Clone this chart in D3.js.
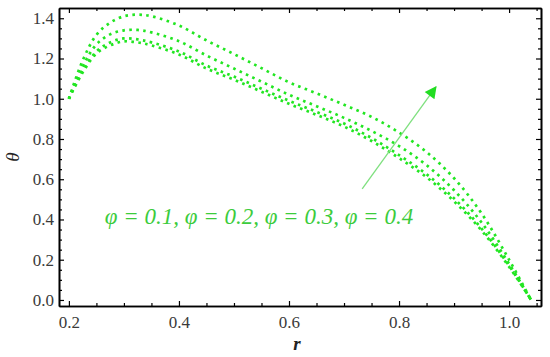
<!DOCTYPE html>
<html><head>
<meta charset="utf-8">
<script src="https://d3js.org/d3.v7.min.js"></script>
<style>
	body { margin: 0; background: #fff; }
	.chart text { font-family: "Liberation Serif", "Times New Roman", serif; }
	.axis path, .axis line { stroke: #000; }
	.curve { fill: none; stroke: #22e622; stroke-width: 2.7; stroke-dasharray: 2.6,4.4; }
</style>
</head><body>
<svg class="chart"></svg>

<script>
var width = 550;
var height = 357;

// r grid and theta values
var r = [0.2, 0.225, 0.25, 0.275, 0.3, 0.325, 0.35, 0.4, 0.45, 0.5, 0.55, 0.6, 0.65, 0.7, 0.75, 0.8, 0.85, 0.9, 0.95, 1.0, 1.04];
var phi01 = [1.0, 1.13, 1.225, 1.265, 1.285, 1.28, 1.265, 1.22, 1.15, 1.095, 1.035, 0.975, 0.92, 0.862, 0.79, 0.705, 0.61, 0.49, 0.345, 0.165, 0.0];
var phi02 = [1.0, 1.14, 1.235, 1.28, 1.30, 1.295, 1.28, 1.235, 1.165, 1.11, 1.05, 0.99, 0.935, 0.877, 0.805, 0.72, 0.625, 0.505, 0.355, 0.17, 0.0];
var phi03 = [1.0, 1.16, 1.27, 1.32, 1.34, 1.342, 1.33, 1.286, 1.215, 1.15, 1.085, 1.02, 0.963, 0.905, 0.84, 0.765, 0.67, 0.545, 0.385, 0.18, 0.0];
var phi04 = [1.0, 1.19, 1.317, 1.378, 1.41, 1.418, 1.41, 1.364, 1.29, 1.222, 1.152, 1.082, 1.027, 0.97, 0.91, 0.832, 0.735, 0.605, 0.43, 0.2, 0.0];
var series = [phi01, phi02, phi03, phi04];

var xMajor = [0.2, 0.4, 0.6, 0.8, 1.0];
var yMajor = [0.0, 0.2, 0.4, 0.6, 0.8, 1.0, 1.2, 1.4];
var legendText = "\u03c6 = 0.1, \u03c6 = 0.2, \u03c6 = 0.3, \u03c6 = 0.4";

var x = d3.scaleLinear()
	.domain([0.182, 1.058])
	.range([59, 541]);

var y = d3.scaleLinear()
	.domain([-0.03, 1.451])
	.range([306, 8]);

var xMinor = d3.range(0.25, 1.06, 0.05).filter(function(v) { return Math.abs(v*5 - Math.round(v*5)) > 0.01; });
var yMinor = d3.range(0.05, 1.44, 0.05).filter(function(v) { return Math.abs(v*5 - Math.round(v*5)) > 0.01; });

var chart = d3.select(".chart")
	.attr("width", width)
	.attr("height", height);

var fmt = d3.format(".1f");

function styleAxis(g) {
	g.attr("class", "axis")
		.attr("font-family", "'Liberation Serif', 'Times New Roman', serif")
		.attr("font-size", 17);
	g.selectAll("text").attr("fill", "#3a3a3a");
}

// bottom / left with labels, top / right mirrored
chart.append("g")
	.attr("transform", "translate(0," + y.range()[0] + ")")
	.call(d3.axisBottom(x).tickValues(xMajor).tickFormat(fmt).tickSizeInner(-5).tickSizeOuter(0).tickPadding(10))
	.call(styleAxis);
chart.append("g")
	.attr("transform", "translate(0," + y.range()[0] + ")")
	.call(d3.axisBottom(x).tickValues(xMinor).tickFormat("").tickSizeInner(-3).tickSizeOuter(0))
	.call(styleAxis);
chart.append("g")
	.attr("transform", "translate(0," + y.range()[1] + ")")
	.call(d3.axisTop(x).tickValues(xMajor).tickFormat("").tickSizeInner(-5).tickSizeOuter(0))
	.call(styleAxis);
chart.append("g")
	.attr("transform", "translate(0," + y.range()[1] + ")")
	.call(d3.axisTop(x).tickValues(xMinor).tickFormat("").tickSizeInner(-3).tickSizeOuter(0))
	.call(styleAxis);

chart.append("g")
	.attr("transform", "translate(" + x.range()[0] + ",0)")
	.call(d3.axisLeft(y).tickValues(yMajor).tickFormat(fmt).tickSizeInner(-5).tickSizeOuter(0).tickPadding(5))
	.call(styleAxis);
chart.append("g")
	.attr("transform", "translate(" + x.range()[0] + ",0)")
	.call(d3.axisLeft(y).tickValues(yMinor).tickFormat("").tickSizeInner(-3).tickSizeOuter(0))
	.call(styleAxis);
chart.append("g")
	.attr("transform", "translate(" + x.range()[1] + ",0)")
	.call(d3.axisRight(y).tickValues(yMajor).tickFormat("").tickSizeInner(-5).tickSizeOuter(0))
	.call(styleAxis);
chart.append("g")
	.attr("transform", "translate(" + x.range()[1] + ",0)")
	.call(d3.axisRight(y).tickValues(yMinor).tickFormat("").tickSizeInner(-3).tickSizeOuter(0))
	.call(styleAxis);

chart.selectAll(".axis path").style("stroke-width", 1.6);
chart.selectAll(".axis line").style("stroke-width", 1.2);

// curves
var line = d3.line()
	.x(function(d, i) { return x(r[i]); })
	.y(function(d) { return y(d); })
	.curve(d3.curveCatmullRom);

chart.append("g")
	.selectAll("path")
	.data(series)
	.enter().append("path")
	.attr("class", "curve")
	.attr("d", line);

// arrow
chart.append("defs").append("marker")
	.attr("id", "head")
	.attr("viewBox", "0 0 10 10")
	.attr("refX", 9).attr("refY", 5)
	.attr("markerWidth", 16).attr("markerHeight", 12)
	.attr("markerUnits", "userSpaceOnUse")
	.attr("orient", "auto")
	.append("path")
	.attr("d", "M0,0L10,5L0,10z")
	.attr("fill", "#22dd22");

chart.append("line")
	.attr("x1", x(0.733)).attr("y1", y(0.552))
	.attr("x2", x(0.867)).attr("y2", y(1.059))
	.attr("stroke", "#7ee07e")
	.attr("stroke-width", 1.3)
	.attr("marker-end", "url(#head)");

// legend text
chart.append("text")
	.attr("x", x(0.265))
	.attr("y", y(0.38))
	.attr("fill", "#3ccc3c")
	.style("font-style", "italic")
	.style("font-size", "23px")
	.text(legendText);

// axis titles
chart.append("text")
	.attr("x", x(0.6145))
	.attr("y", 350)
	.attr("text-anchor", "middle")
	.attr("fill", "#222")
	.style("font-style", "italic")
	.style("font-weight", "bold")
	.style("font-size", "19px")
	.text("r");

chart.append("text")
	.attr("transform", "translate(19," + y(0.71) + ") rotate(-90)")
	.attr("text-anchor", "middle")
	.attr("fill", "#222")
	.style("font-style", "italic")
	.style("font-size", "19px")
	.text("\u03b8");
</script>
</body></html>
